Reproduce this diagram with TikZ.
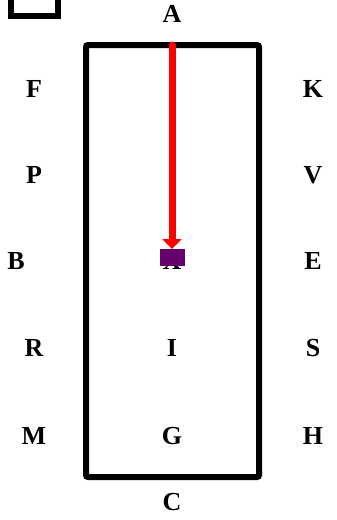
\documentclass[tikz,border=0pt]{standalone}
\usepackage{xcolor}
\usepackage{fontspec}
\setmainfont{Liberation Serif}
\usepackage{tikz}
\usetikzlibrary{arrows.meta, positioning}
\definecolor{markpurple}{RGB}{102,0,110}

\begin{document}
\begin{tikzpicture}[
                x=1pt, y=-1pt,
                lbl/.style={font=\bfseries\fontsize{26}{29}\selectfont, inner sep=0pt},
                frame/.style={draw, line width=6pt, rounded corners=2pt},
                arrow/.style={-{Triangle[width=19pt, length=10pt]}, line width=7pt, red, line cap=round},
                marker/.style={fill=markpurple, minimum width=25pt, minimum height=17pt, inner sep=0pt}
            ]
                \useasboundingbox (0,0) rectangle (337,520);
                \clip (0,0) rectangle (337,520);

                % small box, cut off at the top
                \draw[line width=6pt] (11,-10) rectangle (58,16);

                % labels
                \node[lbl] (a) at (172,14) {A};
                \node[lbl] (f) at (34,89) {F};
                \node[lbl] (k) at (313,89) {K};
                \node[lbl] (p) at (34,175) {P};
                \node[lbl] (v) at (313,175) {V};
                \node[lbl] (b) at (16,261) {B};
                \node[lbl] (x) at (172,261) {X};
                \node[lbl] (e) at (313,261) {E};
                \node[lbl] (r) at (34,348) {R};
                \node[lbl] (i) at (172,348) {I};
                \node[lbl] (s) at (313,348) {S};
                \node[lbl] (m) at (34,436) {M};
                \node[lbl] (g) at (172,436) {G};
                \node[lbl] (h) at (313,436) {H};
                \node[lbl] (c) at (172,502) {C};

                \draw[frame] (86,45) rectangle (259,477);

                \coordinate (atop) at (172,45);
                \coordinate (mtop) at (172,249);
                \draw[arrow] (atop) -- (mtop);
                \node[marker, anchor=north] (mark) at (mtop) {};
            \end{tikzpicture}
\end{document}
